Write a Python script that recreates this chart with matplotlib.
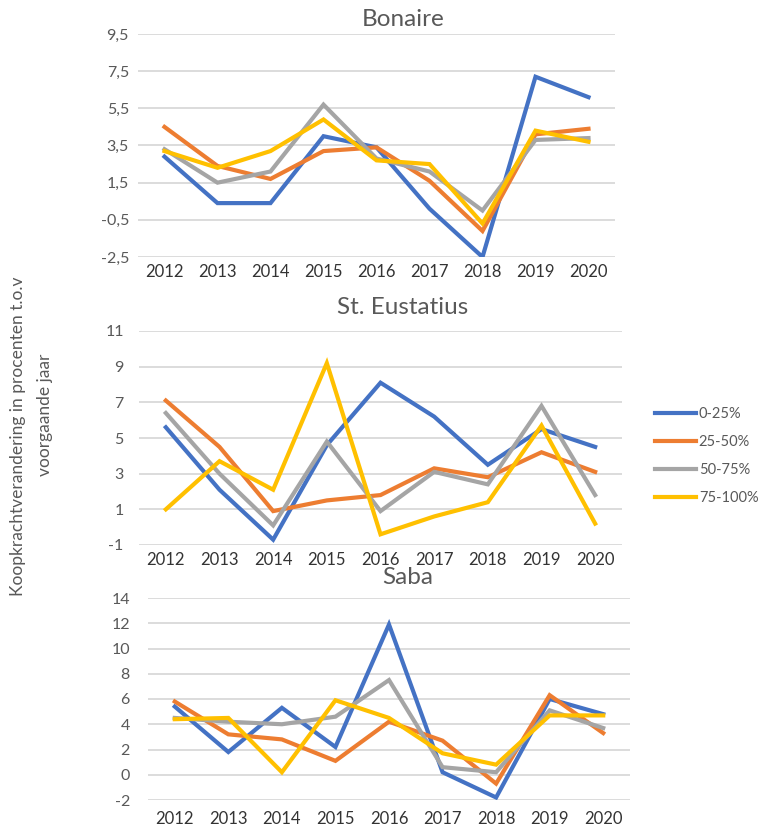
import matplotlib
matplotlib.use("Agg")
import matplotlib.pyplot as plt
from matplotlib.lines import Line2D

plt.rcParams["font.family"] = ["Lato", "DejaVu Sans"]

years = ["2012", "2013", "2014", "2015", "2016", "2017", "2018", "2019", "2020"]
groups = ["0-25%", "25-50%", "50-75%", "75-100%"]

bonaire_0_25 = [2.9, 0.4, 0.4, 4.0, 3.4, 0.1, -2.5, 7.2, 6.1]
bonaire_25_50 = [4.5, 2.4, 1.7, 3.2, 3.4, 1.6, -1.1, 4.1, 4.4]
bonaire_50_75 = [3.3, 1.5, 2.1, 5.7, 2.8, 2.1, 0.0, 3.8, 3.9]
bonaire_75_100 = [3.2, 2.3, 3.2, 4.9, 2.7, 2.5, -0.7, 4.3, 3.7]

statia_0_25 = [5.6, 2.1, -0.7, 4.6, 8.1, 6.2, 3.5, 5.5, 4.5]
statia_25_50 = [7.1, 4.5, 0.9, 1.5, 1.8, 3.3, 2.8, 4.2, 3.1]
statia_50_75 = [6.4, 3.0, 0.1, 4.8, 0.9, 3.1, 2.4, 6.8, 1.8]
statia_75_100 = [1.0, 3.7, 2.1, 9.2, -0.4, 0.6, 1.4, 5.7, 0.2]

saba_0_25 = [5.4, 1.8, 5.3, 2.2, 11.9, 0.2, -1.8, 6.0, 4.8]
saba_25_50 = [5.8, 3.2, 2.8, 1.1, 4.2, 2.7, -0.7, 6.3, 3.3]
saba_50_75 = [4.5, 4.2, 4.0, 4.6, 7.5, 0.6, 0.2, 5.1, 3.7]
saba_75_100 = [4.4, 4.5, 0.2, 5.9, 4.5, 1.7, 0.8, 4.7, 4.7]

bonaire_ticks = [-2.5, -0.5, 1.5, 3.5, 5.5, 7.5, 9.5]
statia_ticks = [-1, 1, 3, 5, 7, 9, 11]
saba_ticks = [-2, 0, 2, 4, 6, 8, 10, 12, 14]

colors = ["#4472C4", "#ED7D31", "#A5A5A5", "#FFC000"]
text_col = "#595959"
grid_col = "#D9D9D9"

W, H = 765, 827
fig = plt.figure(figsize=(W / 100, H / 100), dpi=100)


def px_axes(left, top, right, bottom):
    return fig.add_axes([left / W, 1 - bottom / H, (right - left) / W, (bottom - top) / H])


# (title, axes box in px, title centre in px, series, y ticks, ytick pad, xtick pad)
panels = [
    ("Bonaire", (138, 34, 615, 257), (403, 20),
     [bonaire_0_25, bonaire_25_50, bonaire_50_75, bonaire_75_100], bonaire_ticks, 6.5, 5),
    ("St. Eustatius", (139, 331, 622, 545), (403, 307),
     [statia_0_25, statia_25_50, statia_50_75, statia_75_100], statia_ticks, 11, 5),
    ("Saba", (148, 598, 630, 800), (408, 578),
     [saba_0_25, saba_25_50, saba_50_75, saba_75_100], saba_ticks, 13, 8),
]

x = list(range(len(years)))
for title, box, tpos, series, yticks, ypad, xpad in panels:
    ax = px_axes(*box)
    for vals, c in zip(series, colors):
        ax.plot(x, vals, color=c, lw=3.0, solid_joinstyle="miter", zorder=3)
    ax.set_xlim(-0.5, len(years) - 0.5)
    ax.set_ylim(yticks[0], yticks[-1])
    ax.set_yticks(yticks)
    ax.set_yticklabels([f"{t:g}".replace(".", ",") for t in yticks])
    ax.set_xticks(x, years)
    for y in yticks:
        ax.axhline(y, color=grid_col, lw=1.3, zorder=1)
    for s in ax.spines.values():
        s.set_visible(False)
    ax.tick_params(axis="y", length=0, pad=ypad, labelsize=11.5, labelcolor=text_col)
    ax.tick_params(axis="x", length=0, pad=xpad, labelsize=12, labelcolor="#333333")
    ax.patch.set_alpha(0)
    fig.text(tpos[0] / W, 1 - tpos[1] / H, title, ha="center", va="center",
             fontsize=17.5, color=text_col)

fig.text(18 / W, 1 - 436 / H, "Koopkrachtverandering in procenten t.o.v",
         rotation=90, ha="center", va="center", fontsize=12.5, color=text_col)
fig.text(45 / W, 1 - 415 / H, "voorgaande jaar",
         rotation=90, ha="center", va="center", fontsize=12.5, color=text_col)

handles = [Line2D([0], [0], color=c, lw=3.0) for c in colors]
fig.legend(handles, groups, loc="center left", bbox_to_anchor=(655 / W, 1 - 456 / H),
           frameon=False, fontsize=10.5, labelcolor=text_col, handlelength=2.8,
           handletextpad=0.2, labelspacing=0.95, borderaxespad=0, borderpad=0)

fig.savefig("out.png", dpi=100)
